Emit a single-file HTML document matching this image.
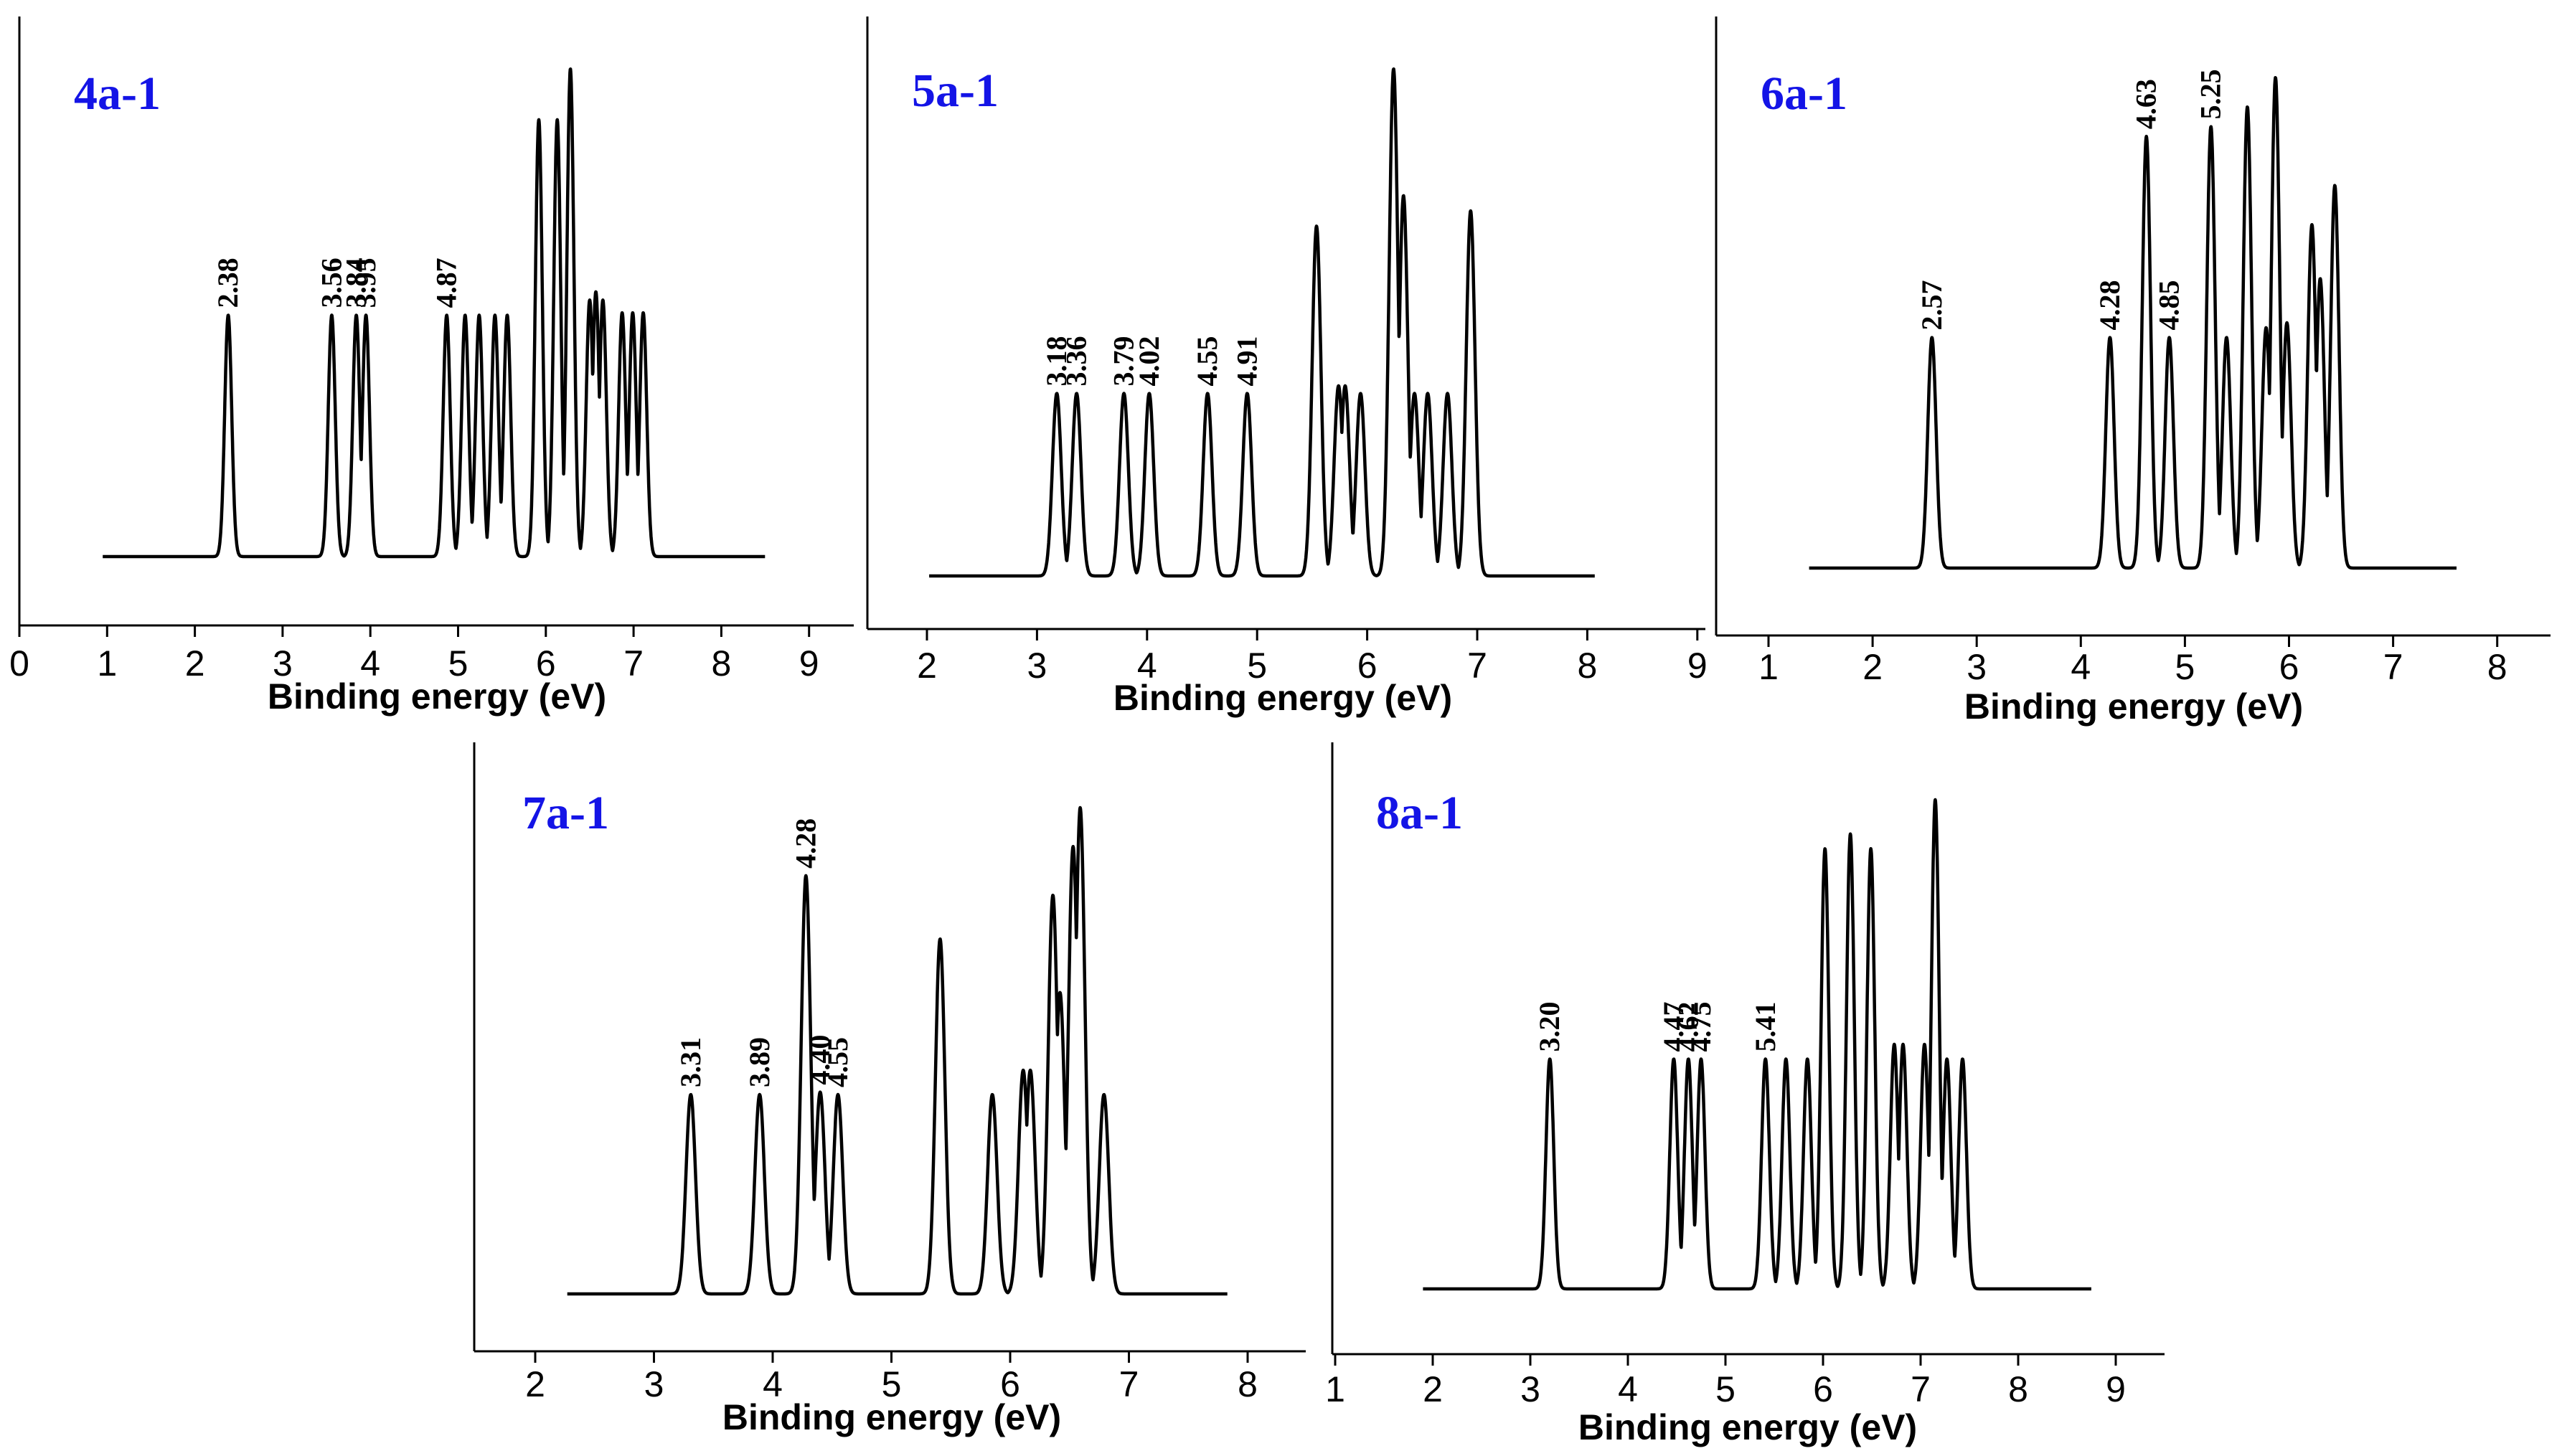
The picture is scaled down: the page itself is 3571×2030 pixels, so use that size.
<!DOCTYPE html>
<html><head><meta charset="utf-8"><style>
html,body{margin:0;padding:0;background:#fff;}
svg{display:block;}
</style></head><body>
<svg id="fig" xmlns="http://www.w3.org/2000/svg" width="3571" height="2030" viewBox="0 0 3571 2030"></svg>
<script>
// ---- data arrays ----
const p1Pos = [2.38,3.56,3.84,3.95,4.87,5.08,5.24,5.42,5.56,5.92,6.13,6.28,6.50,6.57,6.65,6.87,6.99,7.11];
const p1Ht  = [0.495,0.495,0.495,0.495,0.495,0.495,0.495,0.495,0.495,0.896,0.896,1.0,0.526,0.543,0.526,0.5,0.5,0.5];
const p1Labels = ["2.38","3.56","3.84","3.95","4.87"];

const p2Pos = [3.18,3.36,3.79,4.02,4.55,4.91,5.54,5.74,5.80,5.94,6.24,6.33,6.43,6.55,6.73,6.94];
const p2Ht  = [0.36,0.36,0.36,0.36,0.36,0.36,0.69,0.375,0.375,0.36,1.0,0.75,0.36,0.36,0.36,0.72];
const p2Labels = ["3.18","3.36","3.79","4.02","4.55","4.91"];

const p3Pos = [2.57,4.28,4.63,4.85,5.25,5.40,5.60,5.78,5.87,5.98,6.22,6.30,6.44];
const p3Ht  = [0.47,0.47,0.88,0.47,0.90,0.47,0.94,0.49,1.0,0.5,0.70,0.59,0.78];
const p3Labels = ["2.57","4.28","4.63","4.85","5.25"];

const p4Pos = [3.31,3.89,4.28,4.40,4.55,5.41,5.85,6.11,6.17,6.36,6.42,6.53,6.59,6.79];
const p4Ht  = [0.41,0.41,0.86,0.415,0.41,0.73,0.41,0.46,0.46,0.82,0.62,0.92,1.0,0.41];
const p4Labels = ["3.31","3.89","4.28","4.40","4.55"];

const p5Pos = [3.20,4.47,4.62,4.75,5.41,5.62,5.84,6.02,6.28,6.49,6.73,6.82,7.04,7.15,7.27,7.43];
const p5Ht  = [0.47,0.47,0.47,0.47,0.47,0.47,0.47,0.9,0.93,0.9,0.5,0.5,0.5,1.0,0.47,0.47];
const p5Labels = ["3.20","4.47","4.62","4.75","5.41"];

const panels = [
 {id:"4a-1",pos:p1Pos,ht:p1Ht,labels:p1Labels,ax:27,top:23,axY:872,right:1190,t0:0,t0x:27,unit:122.3,base:776,peak:96,ticks:[0,1,2,3,4,5,6,7,8,9],lblY:929,titleY:975,titleX:609,nameX:103,nameY:152,xmin:0.95,xmax:8.5},
 {id:"5a-1",pos:p2Pos,ht:p2Ht,labels:p2Labels,ax:1209,top:23,axY:877,right:2377,t0:2,t0x:1292,unit:153.4,base:803,peak:96,ticks:[2,3,4,5,6,7,8,9],lblY:932,titleY:977,titleX:1788,nameX:1271,nameY:148,xmin:2.02,xmax:8.07},
 {id:"6a-1",pos:p3Pos,ht:p3Ht,labels:p3Labels,ax:2392,top:23,axY:886,right:3555,t0:1,t0x:2465,unit:145.1,base:792,peak:108,ticks:[1,2,3,4,5,6,7,8],lblY:934,titleY:989,titleX:2974,nameX:2454,nameY:152,xmin:1.39,xmax:7.61},
 {id:"7a-1",pos:p4Pos,ht:p4Ht,labels:p4Labels,ax:661,top:1035,axY:1884,right:1820,t0:2,t0x:746,unit:165.5,base:1804,peak:1126,ticks:[2,3,4,5,6,7,8],lblY:1934,titleY:1980,titleX:1243,nameX:728,nameY:1155,xmin:2.27,xmax:7.83},
 {id:"8a-1",pos:p5Pos,ht:p5Ht,labels:p5Labels,ax:1857,top:1035,axY:1888,right:3017,t0:1,t0x:1861,unit:136,base:1797,peak:1115,ticks:[1,2,3,4,5,6,7,8,9],lblY:1941,titleY:1994,titleX:2436,nameX:1918,nameY:1155,xmin:1.9,xmax:8.75}
];

const NS="http://www.w3.org/2000/svg";
const svg=document.getElementById('fig');
const SIG=0.04;
function mk(tag,attrs,parent){const e=document.createElementNS(NS,tag);for(const k in attrs)e.setAttribute(k,attrs[k]);parent.appendChild(e);return e;}
function curveVal(P,x){let m=0;for(let i=0;i<P.pos.length;i++){const d=x-P.pos[i];const v=P.ht[i]*Math.exp(-d*d/(2*SIG*SIG));if(v>m)m=v;}return m;}

panels.forEach((P,pi)=>{
  const g=mk('g',{},svg);
  
  
  const xs=v=>P.t0x+(v-P.t0)*P.unit;
  const ys=h=>P.base-h*(P.base-P.peak);
  const ya=mk('line',{x1:P.ax,y1:P.top,x2:P.ax,y2:P.axY,stroke:'#000','stroke-width':3},g);
  
  
  const xa=mk('line',{x1:P.ax,y1:P.axY,x2:P.right,y2:P.axY,stroke:'#000','stroke-width':3},g);
  
  
  P.ticks.forEach(t=>{
    const tk=mk('line',{x1:xs(t),y1:P.axY,x2:xs(t),y2:P.axY+16,stroke:'#000','stroke-width':3},g);
    
    
    const tl=mk('text',{x:xs(t),y:P.lblY,'text-anchor':'middle','dominant-baseline':'middle','font-family':'Liberation Sans, sans-serif','font-size':50,fill:'#000'},g);
    tl.textContent=String(t);
    
    
  });
  const at=mk('text',{x:P.titleX,y:P.titleY,'text-anchor':'middle','dominant-baseline':'middle','font-family':'Liberation Sans, sans-serif','font-size':50,'font-weight':'bold',fill:'#000'},g);
  at.textContent='Binding energy (eV)';
  
  
  const nm=mk('text',{x:P.nameX,y:P.nameY,'font-family':'Liberation Serif, serif','font-size':66,'font-weight':'bold',fill:'#1414e6'},g);
  nm.textContent=P.id;
  
  
  let d='';
  for(let x=P.xmin;x<=P.xmax+1e-9;x+=0.003){d+=(d?'L':'M')+xs(x).toFixed(1)+','+ys(curveVal(P,x)).toFixed(1);}
  const path=mk('path',{d:d,fill:'none',stroke:'#000','stroke-width':4.5,'stroke-linejoin':'round'},g);
  
  
  P.labels.forEach(l=>{
    const v=parseFloat(l);
    const px=xs(v), py=ys(curveVal(P,v))-10;
    const t=mk('text',{x:0,y:0,transform:`translate(${(px+13).toFixed(1)},${py.toFixed(1)}) rotate(-90)`,'font-family':'Liberation Serif, serif','font-size':40,'font-weight':'bold',fill:'#000'},g);
    t.textContent=l;
    
    
  });
});
</script>
</body></html>
